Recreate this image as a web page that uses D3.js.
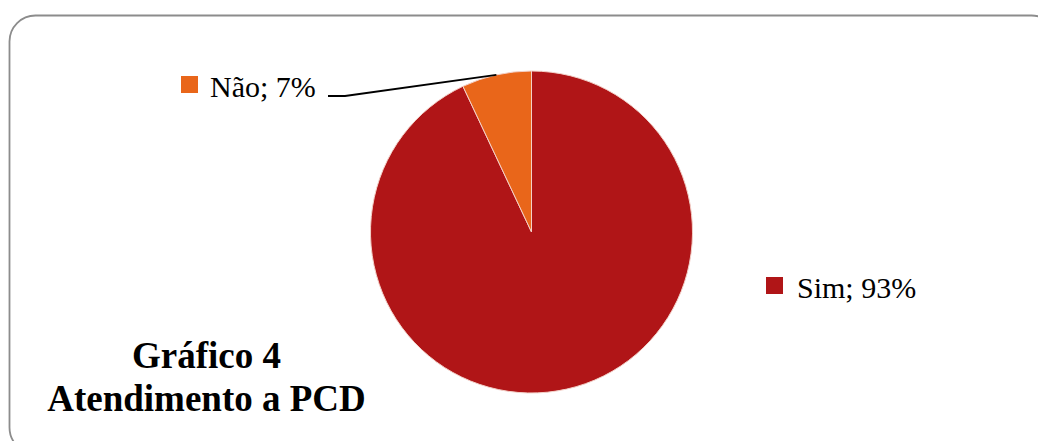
<!DOCTYPE html>
<html>
<head>
<meta charset="utf-8">
<script src="https://cdn.jsdelivr.net/npm/d3@7"></script>
<style>
  html, body { margin: 0; padding: 0; background: #fff; }
  svg { display: block; }
</style>
</head>
<body>
<svg id="chart" width="1038" height="441"></svg>
<script>
const categories = ["Sim", "Não"];
const values = [93, 7];
const colors = ["#B01517", "#E9661A"];
const titleLines = ["Gráfico 4", "Atendimento a PCD"];

const svg = d3.select("#chart");
const W = 1038, H = 441;

// Frame
svg.append("rect")
  .attr("x", 9.5).attr("y", 15.5)
  .attr("width", 1048).attr("height", 438)
  .attr("rx", 26).attr("ry", 26)
  .attr("fill", "#fff")
  .attr("stroke", "#8c8c8c")
  .attr("stroke-width", 1.8);

const cx = 531.5, cy = 232, r = 161;
const g = svg.append("g").attr("transform", `translate(${cx},${cy})`);

const data = categories.map((c, i) => ({ cat: c, value: values[i], color: colors[i] }));
const pie = d3.pie().sort(null).value(d => d.value);
const arcs = pie(data);
const arc = d3.arc().innerRadius(0).outerRadius(r);
const edge = d3.arc().innerRadius(r).outerRadius(r);

g.selectAll("path.slice")
  .data(arcs)
  .enter().append("path")
  .attr("class", "slice")
  .attr("d", arc)
  .attr("fill", d => d.data.color)
  .attr("stroke", "#f3d0c8")
  .attr("stroke-width", 1);

// Labels
const labelPos = {
  "Não": { sx: 181, sy: 76, tx: 210, ty: 97, line: [[328, 96], [345, 96]] },
  "Sim": { sx: 766, sy: 277, tx: 797, ty: 298 }
};

arcs.forEach(d => {
  const p = labelPos[d.data.cat];
  svg.append("rect")
    .attr("x", p.sx).attr("y", p.sy)
    .attr("width", 17).attr("height", 17)
    .attr("fill", d.data.color);
  svg.append("text")
    .attr("x", p.tx).attr("y", p.ty)
    .attr("font-family", "'Liberation Serif', 'Times New Roman', serif")
    .attr("font-size", 30)
    .attr("fill", "#000")
    .text(`${d.data.cat}; ${d.data.value}%`);
  if (p.line) {
    const e = edge.centroid(d);
    const pts = p.line.concat([[cx + e[0], cy + e[1]]]);
    svg.append("path")
      .attr("d", d3.line()(pts))
      .attr("fill", "none")
      .attr("stroke", "#000")
      .attr("stroke-width", 2);
  }
});

// Title
const title = svg.append("text")
  .attr("x", 206.5)
  .attr("text-anchor", "middle")
  .attr("font-family", "'Liberation Serif', 'Times New Roman', serif")
  .attr("font-weight", "bold")
  .attr("font-size", 37)
  .attr("fill", "#000");
titleLines.forEach((t, i) => {
  title.append("tspan").attr("x", 206.5).attr("y", 368 + i * 43).text(t);
});
</script>
</body>
</html>
